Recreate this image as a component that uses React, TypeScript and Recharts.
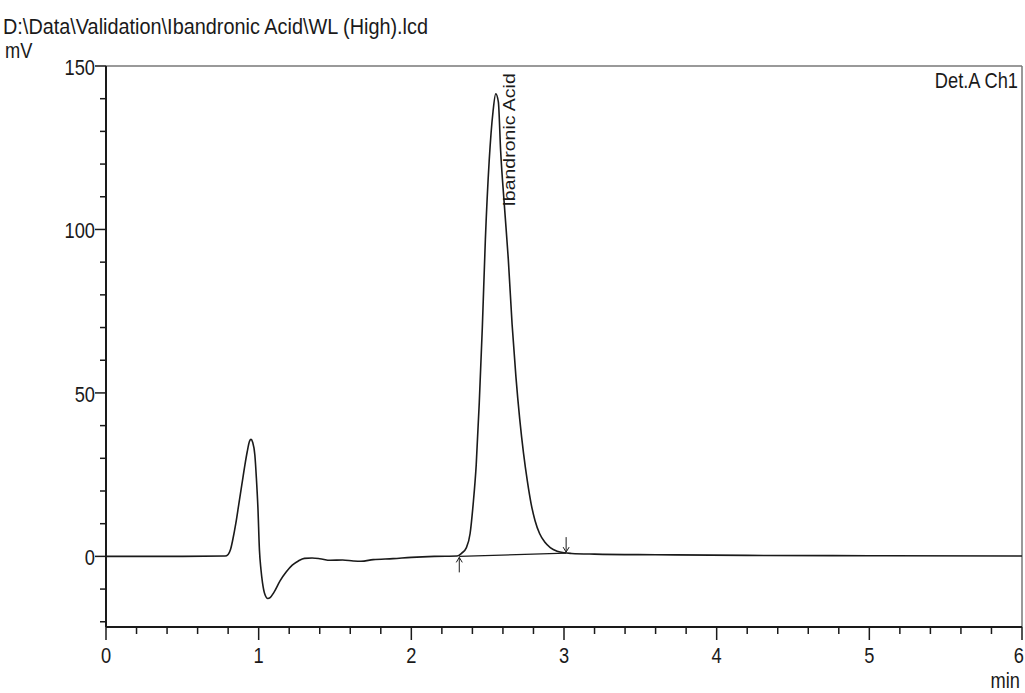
import React from 'react';
import { ComposedChart, Line, Scatter, XAxis, YAxis, ReferenceLine } from 'recharts';

// retention time (min) and detector signal (mV)
const time = [
  0, 0.5, 0.78, 0.8, 0.815, 0.83, 0.85, 0.87, 0.89, 0.91, 0.925, 0.94, 0.95, 0.96, 0.975, 0.985, 0.995,
  1.005, 1.015, 1.025, 1.04, 1.06, 1.075, 1.1, 1.14, 1.18, 1.22, 1.26, 1.3, 1.35, 1.4, 1.47, 1.55,
  1.62, 1.67, 1.75, 1.88, 2.0, 2.15, 2.3, 2.33, 2.36, 2.385, 2.405, 2.425, 2.445, 2.465, 2.485,
  2.51, 2.535, 2.553, 2.57, 2.585, 2.61, 2.635, 2.66, 2.685, 2.71, 2.735, 2.76, 2.785, 2.81, 2.84,
  2.875, 2.91, 2.955, 3.0, 3.05, 3.2, 3.6, 4.2, 5.0, 6.0,
];
const signal = [
  0, 0, 0.1, 0.6, 2, 5, 10, 16, 22, 28, 32, 35.2, 35.8, 35, 31, 24, 15,
  2, -4, -8, -11.5, -12.9, -12.6, -11, -7.5, -4.8, -2.7, -1.4, -0.6, -0.5, -0.7, -1.2, -1.1,
  -1.4, -1.5, -1.0, -0.7, -0.3, 0, 0.1, 1, 2.6, 7, 16, 28, 47, 70, 97,
  121, 136, 141.5, 139, 124, 107, 91, 71, 55, 42, 31.5, 23, 16, 11, 7,
  4.3, 2.7, 1.6, 1.1, 0.9, 0.7, 0.5, 0.3, 0.2, 0.1,
];

// integration baseline and peak start/end markers
const baselineTime = [2.314, 3.014];
const baselineSignal = [0, 1];
const markerDir = ['up', 'down'];

const peakName = 'Ibandronic Acid';
const peakLabelAt = { t: 2.68, v: 107 };

const xTicks = [
  0, 0.2, 0.4, 0.6, 0.8, 1, 1.2, 1.4, 1.6, 1.8, 2, 2.2, 2.4, 2.6, 2.8, 3, 3.2, 3.4, 3.6, 3.8,
  4, 4.2, 4.4, 4.6, 4.8, 5, 5.2, 5.4, 5.6, 5.8, 6,
];
const yTicks = [-20, -10, 0, 10, 20, 30, 40, 50, 60, 70, 80, 90, 100, 110, 120, 130, 140, 150];

const trace = time.map((t, i) => ({ t, v: signal[i] }));
const baseline = baselineTime.map((t, i) => ({ t, v: baselineSignal[i] }));
const markers = baselineTime.map((t, i) => ({ t, v: baselineSignal[i], dir: markerDir[i] }));

const FONT = "'Liberation Sans', Arial, sans-serif";
const INK = '#1a1a1a';

const Narrow = ({ x, y, anchor = 'start', size = 22, children }: any) => (
  <text
    transform={`translate(${x},${y}) scale(0.83,1)`}
    x={0}
    y={0}
    textAnchor={anchor}
    fontFamily={FONT}
    fontSize={size}
    fill={INK}
  >
    {children}
  </text>
);

const isWhole = (v: number, step: number) => Math.abs(v / step - Math.round(v / step)) < 1e-6;

const XTick = ({ x, y, payload }: any) => {
  const major = isWhole(payload.value, 1);
  const last = payload.value >= 6;
  return (
    <g>
      <line x1={x} y1={y} x2={x} y2={y + (major ? 13 : 7)} stroke={INK} strokeWidth={1.5} />
      {major && (
        <Narrow x={last ? 1024 : x} y={y + 36} anchor={last ? 'end' : 'middle'}>
          {String(Math.round(payload.value))}
        </Narrow>
      )}
    </g>
  );
};

const YTick = ({ x, y, payload }: any) => {
  const major = isWhole(payload.value, 50);
  return (
    <g>
      <line x1={x - (major ? 11 : 6)} y1={y} x2={x} y2={y} stroke={INK} strokeWidth={1.5} />
      {major && (
        <Narrow x={x - 11} y={y + 9} anchor="end">
          {String(payload.value)}
        </Narrow>
      )}
    </g>
  );
};

const Marker = ({ cx, cy, payload }: any) => {
  if (payload.dir === 'up') {
    return (
      <path
        d={`M${cx},${cy + 16} L${cx},${cy + 1} M${cx - 3},${cy + 6} L${cx},${cy + 1} L${cx + 3},${cy + 6}`}
        stroke={INK}
        strokeWidth={1}
        fill="none"
      />
    );
  }
  return (
    <path
      d={`M${cx},${cy - 16} L${cx},${cy - 1} M${cx - 3},${cy - 6} L${cx},${cy - 1} L${cx + 3},${cy - 6}`}
      stroke={INK}
      strokeWidth={1}
      fill="none"
    />
  );
};

const PeakLabel = ({ cx, cy }: any) => (
  <text
    transform={`translate(${cx},${cy}) rotate(-90) scale(1.22,1)`}
    x={0}
    y={0}
    fontFamily={FONT}
    fontSize={16}
    fill={INK}
  >
    {peakName}
  </text>
);

const App: React.FC = () => {
  return (
    <div style={{ position: 'absolute', left: 0, top: 0, width: 1025, height: 693, background: '#fff' }}>
      <ComposedChart width={1025} height={693} data={trace} margin={{ top: 66, right: 3, bottom: 0, left: 0 }}>
        <XAxis
          dataKey="t"
          type="number"
          domain={[0, 6]}
          ticks={xTicks}
          interval={0}
          height={66}
          tickSize={0}
          tickMargin={0}
          tickLine={false}
          tick={<XTick />}
          axisLine={{ stroke: INK, strokeWidth: 2 }}
        />
        <YAxis
          type="number"
          domain={[-21.6, 150]}
          ticks={yTicks}
          interval={0}
          width={106}
          tickSize={0}
          tickMargin={0}
          tickLine={false}
          tick={<YTick />}
          axisLine={{ stroke: INK, strokeWidth: 2 }}
        />
        <ReferenceLine y={150} stroke="#777" strokeWidth={1.5} />
        <ReferenceLine x={6} stroke="#777" strokeWidth={1.5} />
        <Line
          data={baseline}
          dataKey="v"
          type="linear"
          stroke={INK}
          strokeWidth={1.2}
          dot={false}
          isAnimationActive={false}
        />
        <Line
          dataKey="v"
          type="monotone"
          stroke={INK}
          strokeWidth={1.6}
          dot={false}
          isAnimationActive={false}
        />
        <Scatter data={markers} dataKey="v" shape={<Marker />} isAnimationActive={false} />
        <Scatter data={[peakLabelAt]} dataKey="v" shape={<PeakLabel />} isAnimationActive={false} />
      </ComposedChart>
      <svg width={1025} height={693} style={{ position: 'absolute', left: 0, top: 0, pointerEvents: 'none' }}>
        <text
          x={3}
          y={34}
          fontFamily={FONT}
          fontSize={22}
          fill={INK}
          textLength={425}
          lengthAdjust="spacingAndGlyphs"
        >
          {'D:\\Data\\Validation\\Ibandronic Acid\\WL (High).lcd'}
        </text>
        <Narrow x={5} y={58}>mV</Narrow>
        <Narrow x={1020} y={688} anchor="end">min</Narrow>
        <Narrow x={1018} y={88} anchor="end">Det.A Ch1</Narrow>
      </svg>
    </div>
  );
};

export default App;
